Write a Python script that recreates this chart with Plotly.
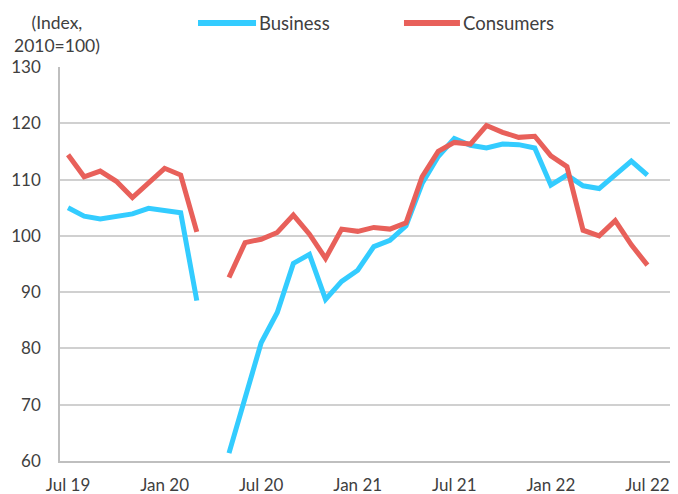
import plotly.graph_objects as go

months = ["Jul 19", "Aug 19", "Sep 19", "Oct 19", "Nov 19", "Dec 19",
          "Jan 20", "Feb 20", "Mar 20", "Apr 20", "May 20", "Jun 20",
          "Jul 20", "Aug 20", "Sep 20", "Oct 20", "Nov 20", "Dec 20",
          "Jan 21", "Feb 21", "Mar 21", "Apr 21", "May 21", "Jun 21",
          "Jul 21", "Aug 21", "Sep 21", "Oct 21", "Nov 21", "Dec 21",
          "Jan 22", "Feb 22", "Mar 22", "Apr 22", "May 22", "Jun 22",
          "Jul 22"]

business = [105.0, 103.5, 103.0, 103.4, 103.9, 104.9,
            104.5, 104.1, 88.5, None, 61.4, 71.5,
            81.0, 86.4, 95.1, 96.7, 88.7, 91.9,
            93.9, 98.1, 99.2, 101.8, 109.3, 114.1,
            117.3, 116.1, 115.6, 116.3, 116.2, 115.6,
            109.0, 110.8, 108.9, 108.4, 110.8, 113.3,
            110.8]

consumers = [114.4, 110.5, 111.5, 109.7, 106.8, 109.3,
             112.0, 110.8, 100.7, None, 92.6, 98.8,
             99.4, 100.6, 103.7, 100.3, 96.0, 101.2,
             100.8, 101.5, 101.2, 102.3, 110.5, 115.0,
             116.6, 116.3, 119.6, 118.4, 117.5, 117.7,
             114.2, 112.3, 101.0, 100.0, 102.7, 98.4,
             94.8]

series_names = ["Business", "Consumers"]
series_colors = ["#33CCFF", "#E8605A"]

tick_labels = ["Jul 19", "Jan 20", "Jul 20", "Jan 21", "Jul 21", "Jan 22", "Jul 22"]
y_ticks = [60, 70, 80, 90, 100, 110, 120, 130]

FONT = "Lato"
TXT = "#404040"

fig = go.Figure()
for name, vals, col in zip(series_names, [business, consumers], series_colors):
    fig.add_trace(go.Scatter(x=months, y=vals, mode="lines", name=name,
                             line=dict(color=col, width=5), connectgaps=False,
                             showlegend=False))

# manual legend (line sample + real text) placed above the plot
legend_x = [(0.2233, 0.3172), (0.5566, 0.6472)]
legend_y = 1.1117
shapes = []
annotations = []
for (x0, x1), name, col in zip(legend_x, series_names, series_colors):
    shapes.append(dict(type="line", xref="paper", yref="paper", x0=x0, x1=x1,
                       y0=legend_y, y1=legend_y, line=dict(color=col, width=6)))
    annotations.append(dict(text=name, xref="paper", yref="paper", x=x1 + 0.002,
                            y=legend_y, xanchor="left", yanchor="middle",
                            showarrow=False,
                            font=dict(family=FONT, size=18.5, color=TXT)))

annotations.append(dict(text="(Index,<br>2010=100)", xref="paper", yref="paper",
                        x=-0.005, y=1.085, xanchor="center", yanchor="middle",
                        align="center", showarrow=False,
                        font=dict(family=FONT, size=17.5, color=TXT)))

fig.update_layout(
    width=670, height=486,
    margin=dict(l=52, r=0, t=59, b=33, autoexpand=False),
    paper_bgcolor="white", plot_bgcolor="white",
    font=dict(family=FONT, size=17, color=TXT),
    showlegend=False,
    xaxis=dict(type="category", categoryorder="array", categoryarray=months,
               range=[-0.5, 37.9], tickmode="array", tickvals=tick_labels,
               ticktext=tick_labels, showgrid=False, showline=True,
               linecolor="#BFBFBF", linewidth=1.5, ticks="", ticklabelstandoff=8,
               automargin=False,
               tickfont=dict(family=FONT, size=17, color=TXT), zeroline=False),
    yaxis=dict(range=[60, 130], tickmode="array", tickvals=y_ticks,
               showgrid=True, gridcolor="#D0D0D0", gridwidth=1.5,
               showline=True, linecolor="#BFBFBF", linewidth=1.5, ticks="",
               ticklabelstandoff=14, zeroline=False, automargin=False,
               tickfont=dict(family=FONT, size=17, color=TXT)),
    shapes=shapes,
    annotations=annotations,
)

fig.write_html("out.html")
